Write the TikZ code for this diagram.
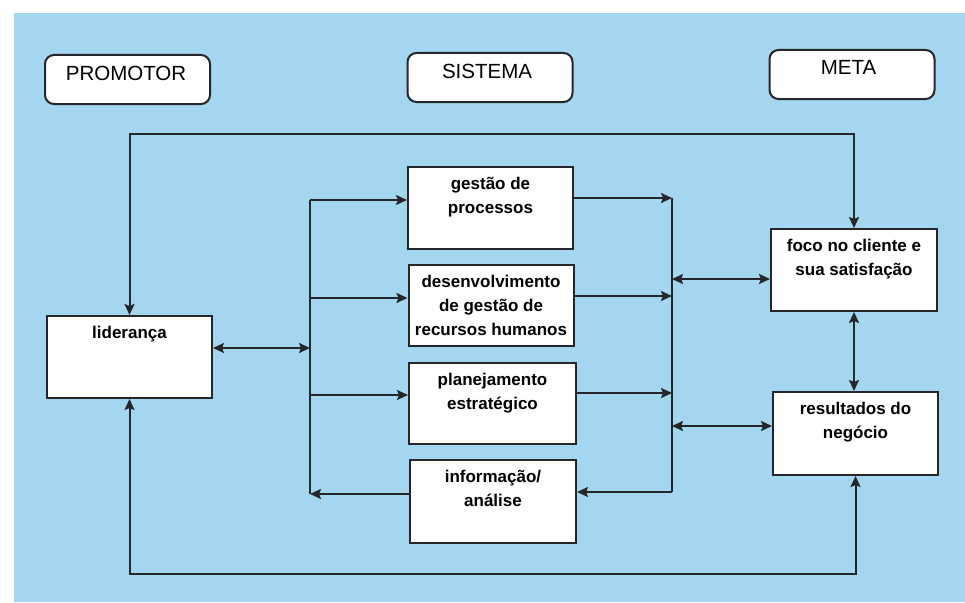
\documentclass[tikz,border=0pt]{standalone}
\usepackage{fontspec}
\setmainfont{Liberation Sans}
\usetikzlibrary{arrows.meta}
\definecolor{bgblue}{RGB}{164,215,239}
\definecolor{ink}{RGB}{38,38,40}
\tikzset{
  boxbase/.style={draw=ink, line width=2pt, fill=white, inner sep=0pt},
  headbox/.style={boxbase, rounded corners=9pt, minimum width=165pt, minimum height=49pt},
  stepbox/.style={boxbase, minimum width=165pt, minimum height=82pt},
  headtext/.style={anchor=base, inner sep=0pt, font=\fontsize{20.5}{24}\selectfont},
  boxtext/.style={anchor=north, inner sep=0pt, align=center,
    font=\fontsize{17}{24}\selectfont\bfseries},
  conn/.style={draw=ink, line width=2pt},
  tip/.style={conn, arrows={-Stealth[length=11pt,width=10pt,inset=2pt]}},
  tips/.style={conn, arrows={Stealth[length=11pt,width=10pt,inset=2pt]-Stealth[length=11pt,width=10pt,inset=2pt]}},
}
\begin{document}
\begin{tikzpicture}[x=1pt,y=-1pt]
\useasboundingbox (0,0) rectangle (965,602);
\fill[white] (0,0) rectangle (965,602);
\fill[bgblue] (14,13) rectangle (965,602);

% column headings
\node[headbox] (promotor) at (127.5,79.5) {};
\node[headtext] (promotor-t) at (126,80.5) {PROMOTOR};
\node[headbox] (sistema) at (490,77.5) {};
\node[headtext] (sistema-t) at (487,78.5) {SISTEMA};
\node[headbox] (meta) at (852,74.5) {};
\node[headtext] (meta-t) at (848.5,74.5) {META};

% boxes
\node[stepbox] (lid) at (129.5,357) {};
\node[stepbox] (gp) at (490.5,208) {};
\node[stepbox, minimum height=81pt] (drh) at (491,305.5) {};
\node[stepbox, minimum width=167pt, minimum height=81pt] (pe) at (492.5,403.5) {};
\node[stepbox, minimum width=166pt, minimum height=83pt] (ia) at (493,501.5) {};
\node[stepbox, minimum width=166pt] (foco) at (854,270) {};
\node[stepbox, minimum height=83pt] (res) at (855.5,433.5) {};

\node[boxtext] (lid-t) at ([yshift=-6pt]lid.north) {\strut lideran\c{c}a};
\node[boxtext] (gp-t) at ([yshift=-6pt]gp.north) {\strut gestão de\\processos};
\node[boxtext] (drh-t) at ([yshift=-6pt]drh.north) {\strut desenvolvimento\\de gestão de\\recursos humanos};
\node[boxtext] (pe-t) at ([yshift=-6pt]pe.north) {\strut planejamento\\estratégico};
\node[boxtext] (ia-t) at ([yshift=-6pt]ia.north) {\strut informação/\\análise};
\node[boxtext] (foco-t) at ([yshift=-6pt]foco.north) {\strut foco no cliente e\\sua satisfação};
\node[boxtext] (res-t) at ([yshift=-6pt]res.north) {\strut resultados do\\negócio};

% bus lines
\coordinate (ttop) at (490,134);
\coordinate (tbot) at (490,574);
\coordinate (dl) at (310,348);
\coordinate (d1) at (310,200);
\coordinate (d2) at (310,298);
\coordinate (d3) at (310,395);
\coordinate (d4) at (310,494);
\coordinate (c1) at (672,198);
\coordinate (c2) at (672,296);
\coordinate (c3) at (672,393);
\coordinate (c4) at (672,492);
\coordinate (cf) at (672,279);
\coordinate (cr) at (672,426);

% outer feedback loops
\draw[tips] (lid.north) |- (ttop) -| (foco.north);
\draw[tips] (lid.south) |- (tbot) -| (res.south);

% distribution from leadership
\draw[tips] (lid.east |- dl) -- (dl);
\draw[conn] (d1) -- (d4);
\draw[tip] (d1) -- (gp.west |- d1);
\draw[tip] (d2) -- (drh.west |- d2);
\draw[tip] (d3) -- (pe.west |- d3);
\draw[tip] (ia.west |- d4) -- (d4);

% collection towards the goals
\draw[conn] (c1) -- (c4);
\draw[tip] (gp.east |- c1) -- (c1);
\draw[tip] (drh.east |- c2) -- (c2);
\draw[tip] (pe.east |- c3) -- (c3);
\draw[tip] (c4) -- (ia.east |- c4);
\draw[tips] (cf) -- (foco.west |- cf);
\draw[tips] (cr) -- (res.west |- cr);
\draw[tips] (foco.south) -- (foco.south |- res.north);
\end{tikzpicture}
\end{document}
